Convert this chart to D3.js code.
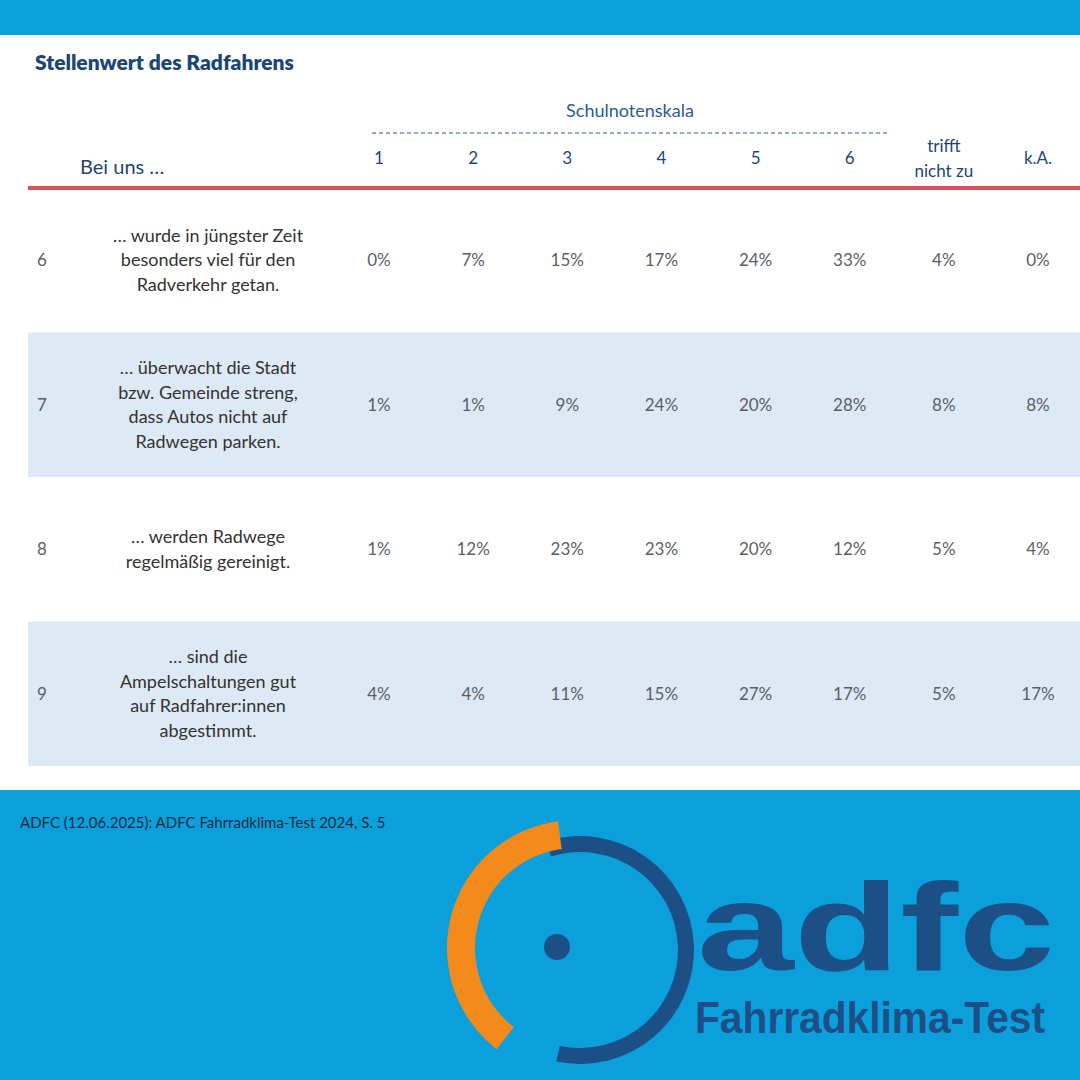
<!DOCTYPE html>
<html><head><meta charset="utf-8">
<script src="https://cdn.jsdelivr.net/npm/d3@7"></script>
<style>body{margin:0}svg{display:block}</style>
</head><body>
<script>
// table data
var columns = ["1","2","3","4","5","6","trifft nicht zu","k.A."];
var rowIds = ["6","7","8","9"];
var rowLabels = [
	["… wurde in jüngster Zeit","besonders viel für den","Radverkehr getan."],
	["… überwacht die Stadt","bzw. Gemeinde streng,","dass Autos nicht auf","Radwegen parken."],
	["… werden Radwege","regelmäßig gereinigt."],
	["… sind die","Ampelschaltungen gut","auf Radfahrer:innen","abgestimmt."]
];
var values = [
	[0,7,15,17,24,33,4,0],
	[1,1,9,24,20,28,8,8],
	[1,12,23,23,20,12,5,4],
	[4,4,11,15,27,17,5,17]
];

var W = 1080, H = 1080;
var blue = "#0ba0dc", navy = "#1b4676", grey = "#5a5f66";
var svg = d3.select("body").append("svg").attr("width", W).attr("height", H);

svg.append("rect").attr("width", W).attr("height", H).attr("fill", blue);
svg.append("rect").attr("y", 35).attr("width", W).attr("height", 755).attr("fill", "#fff");

svg.append("text").attr("x", 35).attr("y", 70).text("Stellenwert des Radfahrens")
	.attr("font-family", "Lato").attr("font-weight", 800).attr("font-size", "21px").attr("fill", navy);

var x = d3.scalePoint().domain(columns).range([379, 1038]);
var y = d3.scaleBand().domain(rowIds).range([188, 766]);

// row backgrounds
svg.selectAll(".rowBg").data(rowIds).enter().append("rect")
	.attr("x", 28).attr("y", function(d){ return y(d); })
	.attr("width", W - 28).attr("height", y.bandwidth())
	.attr("fill", function(d, i){ return i % 2 ? "#dde9f4" : "#fff"; });

// header
svg.append("text").attr("x", 630).attr("y", 117).attr("text-anchor", "middle")
	.text("Schulnotenskala").attr("font-family", "Lato").attr("font-size", "18px").attr("fill", "#2d5b8c");
svg.append("line").attr("x1", 372).attr("x2", 888).attr("y1", 133).attr("y2", 133)
	.attr("stroke", "#2d5b8c").attr("stroke-dasharray", "4,3").attr("stroke-width", 1);
svg.append("text").attr("x", 80).attr("y", 174).text("Bei uns …")
	.attr("font-family", "Lato").attr("font-size", "20px").attr("fill", navy);

columns.forEach(function(c){
	var words = c === "trifft nicht zu" ? ["trifft","nicht zu"] : [c];
	var t = svg.append("text").attr("text-anchor", "middle")
		.attr("font-family", "Lato").attr("font-size", "17px").attr("fill", navy);
	words.forEach(function(w, i){
		t.append("tspan").attr("x", x(c)).attr("y", words.length > 1 ? 152 + i*25 : 164).text(w);
	});
});
svg.append("line").attr("x1", 28).attr("x2", W).attr("y1", 188).attr("y2", 188)
	.attr("stroke", "#e0525a").attr("stroke-width", 4);

// rows
rowIds.forEach(function(r, ri){
	var cy = y(r) + y.bandwidth()/2;
	svg.append("text").attr("x", 42).attr("y", cy + 6).attr("text-anchor", "middle").text(r)
		.attr("font-family", "Lato").attr("font-size", "17px").attr("fill", grey);
	var lines = rowLabels[ri];
	var t = svg.append("text").attr("text-anchor", "middle")
		.attr("font-family", "Lato").attr("font-size", "18px").attr("fill", "#333");
	lines.forEach(function(l, i){
		t.append("tspan").attr("x", 208).attr("y", cy + 6 + (i - (lines.length-1)/2)*24.5).text(l);
	});
	svg.selectAll(".val" + r).data(values[ri]).enter().append("text")
		.attr("x", function(d, i){ return x(columns[i]); })
		.attr("y", cy + 6).attr("text-anchor", "middle")
		.text(function(d){ return d + "%"; })
		.attr("font-family", "Lato").attr("font-size", "17px").attr("fill", grey);
});

// source
svg.append("text").attr("x", 20).attr("y", 828).text("ADFC (12.06.2025): ADFC Fahrradklima-Test 2024, S. 5")
	.attr("font-family", "Lato").attr("font-size", "15px").attr("fill", "#1a2a40");

// logo
var lg = svg.append("g");
var arc = d3.arc();
lg.append("path").attr("transform", "translate(580,950)")
	.attr("d", arc({innerRadius: 98, outerRadius: 114, startAngle: -0.3, endAngle: 3.35})).attr("fill", "#1c4f86");
lg.append("path").attr("transform", "translate(575,948)")
	.attr("d", arc({innerRadius: 100, outerRadius: 128, startAngle: 3.8, endAngle: 6.15})).attr("fill", "#f28a1c");
lg.append("circle").attr("cx", 557).attr("cy", 947).attr("r", 13).attr("fill", "#1c4f86");
lg.append("text").attr("x", 697).attr("y", 970).text("adfc")
	.attr("font-family", "Liberation Sans").attr("font-weight", 700).attr("font-size", "125px")
	.attr("textLength", 358).attr("lengthAdjust", "spacingAndGlyphs").attr("fill", "#1c4f86");
lg.append("text").attr("x", 695).attr("y", 1033).text("Fahrradklima-Test")
	.attr("font-family", "Liberation Sans").attr("font-weight", 700).attr("font-size", "44px")
	.attr("textLength", 350).attr("lengthAdjust", "spacingAndGlyphs").attr("fill", "#1c4f86");
</script>
</body></html>
